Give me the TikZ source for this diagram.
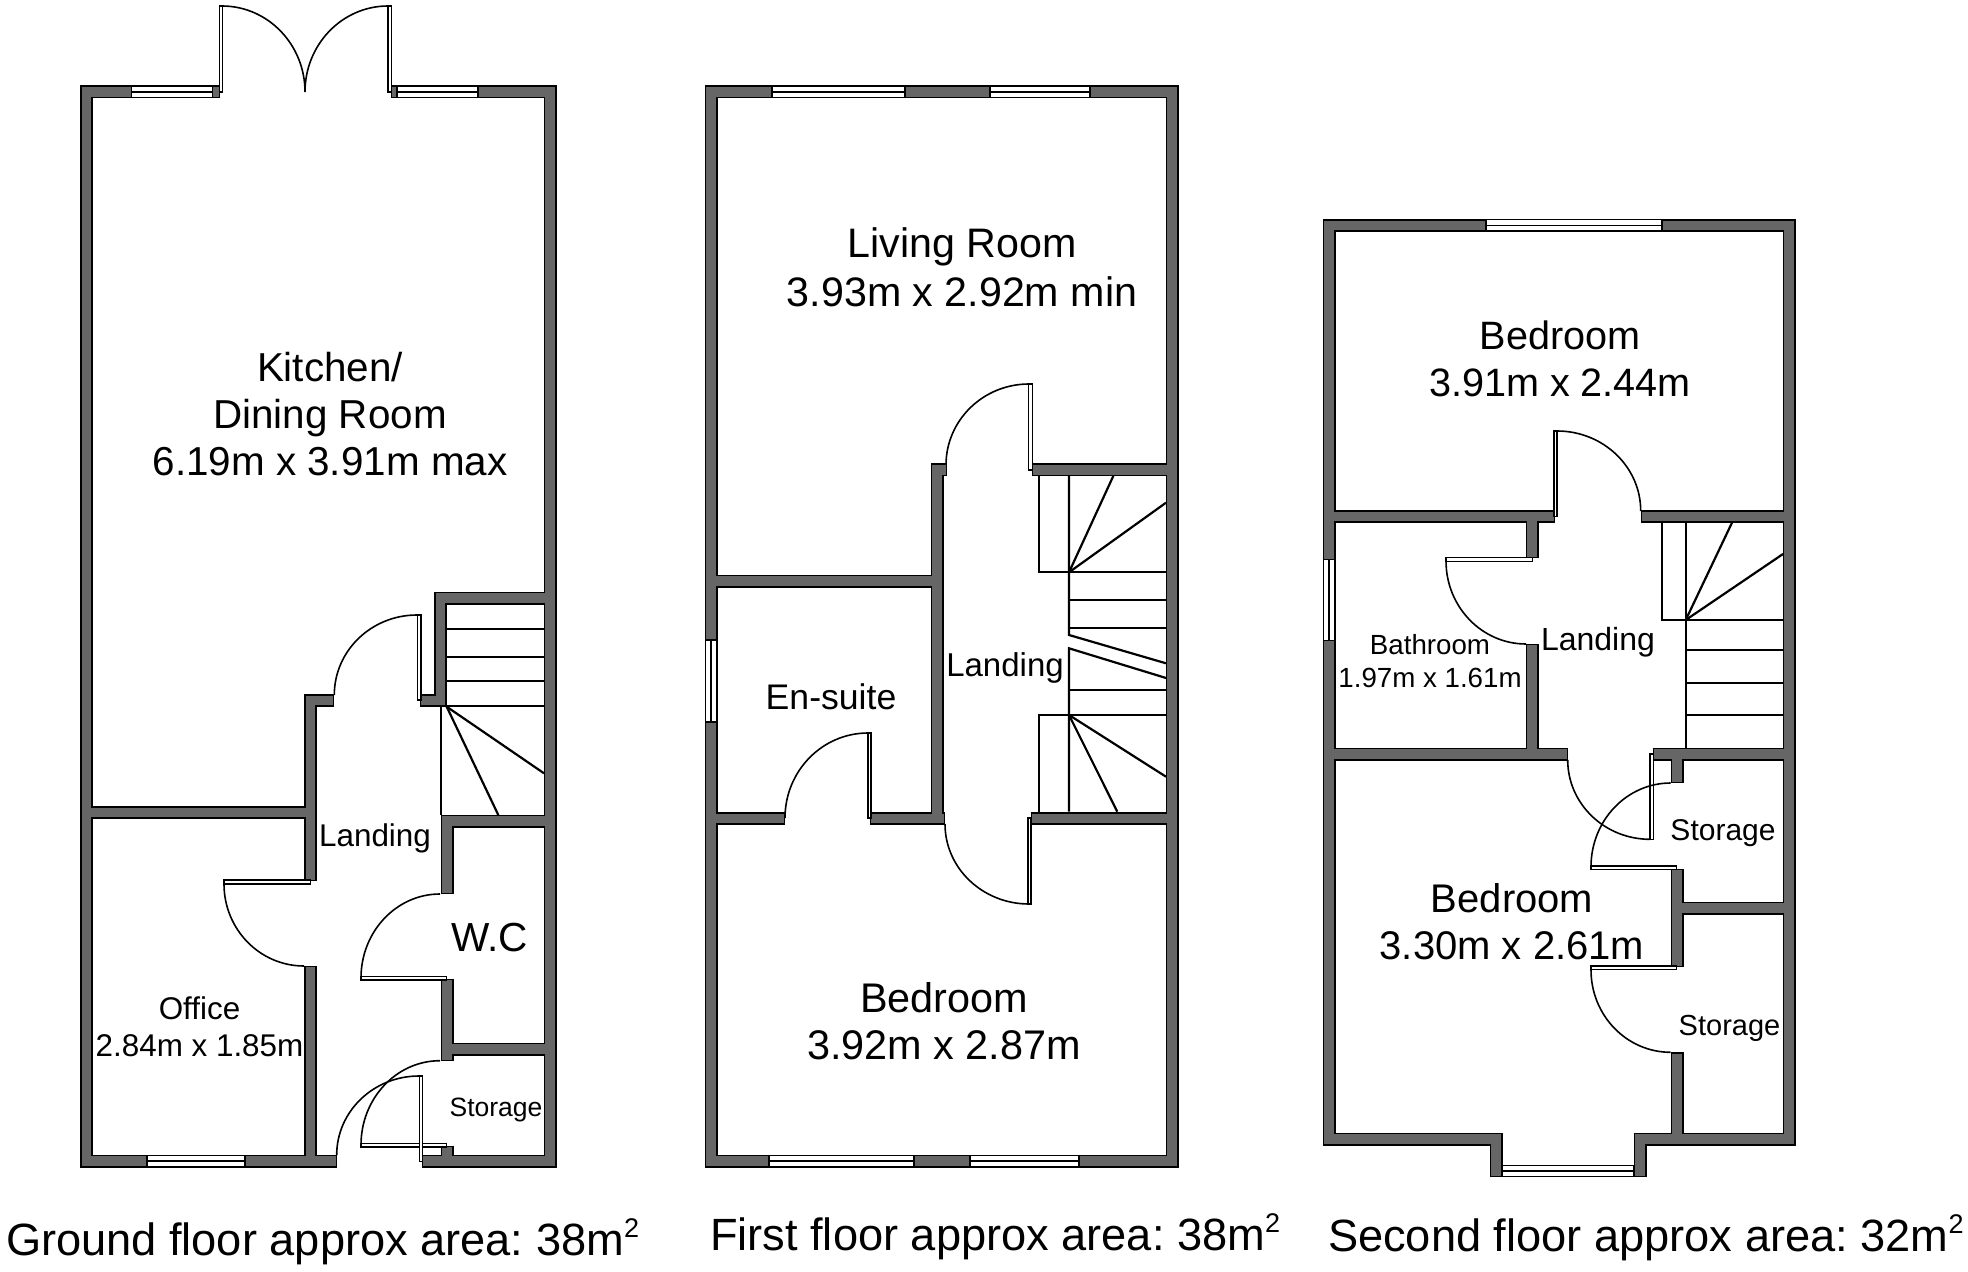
\documentclass[tikz,border=0pt]{standalone}
\usepackage{fontspec}
\setmainfont{Liberation Sans}
\usetikzlibrary{calc}
\definecolor{wallgrey}{HTML}{666666}
\tikzset{
  wallblack/.style={draw=black,line width=6.5pt,line cap=butt,line join=miter},
  wallfill/.style={draw=wallgrey,line width=4.7pt,line cap=butt,line join=miter,shorten <=0.6pt,shorten >=0.6pt},
  stair/.style={draw=black,line width=1.1pt},
  swing/.style={draw=black,line width=0.8pt},
  leaf/.style={draw=black,fill=white,line width=0.7pt},
  glass/.style={draw=black,fill=white,line width=0.7pt},
  lab/.style={inner sep=0pt,outer sep=0pt,anchor=center,align=center,text=black},
  capt/.style={inner sep=0pt,outer sep=0pt,anchor=base west,text=black,font=\fontsize{22.6}{22.6}\selectfont\frenchspacing}
}
\newcommand{\fs}[2]{\fontsize{#1}{#2}\selectfont\frenchspacing}
\newcommand{\sqm}{\raisebox{0.39em}{\fontsize{13.5}{13.5}\selectfont 2}}
\newcommand{\doorarc}[3]{\draw[swing] (#1) .. controls ($(#1)!0.5523!(#2)$) and ($(#3)!0.5523!(#2)$) .. (#3);}
\newcommand{\hwin}[3]{\draw[glass] (#1,#3-5.7) rectangle (#2,#3+5.7);\draw[glass] (#1,#3) -- (#2,#3);}
\newcommand{\vwin}[3]{\draw[glass] (#1-5.7,#2) rectangle (#1+5.7,#3);\draw[glass] (#1,#2) -- (#1,#3);}
\newcommand{\wallpaths}[1]{%
  % ground floor
  \draw[#1] (220,92)--(86.3,92)--(86.3,1161)--(336.7,1161);
  \draw[#1] (390.7,92)--(550,92)--(550,1161)--(421.7,1161);
  \draw[#1] (550,598)--(440.5,598)--(440.5,700.3)--(420,700.3);
  \draw[#1] (334,700.3)--(310.3,700.3)--(310.3,880.7);
  \draw[#1] (310.3,966)--(310.3,1161);
  \draw[#1] (86,812.7)--(310,812.7);
  \draw[#1] (550,821)--(447,821)--(447,894);
  \draw[#1] (447,979)--(447,1060.7);
  \draw[#1] (447,1049)--(550,1049);
  \draw[#1] (447,1145.7)--(447,1161);
  % first floor
  \draw[#1] (1000,92)--(711,92)--(711,1161)--(1172,1161)--(1172,92)--(1000,92);
  \draw[#1] (1031.7,470)--(1172,470);
  \draw[#1] (946.7,470)--(937,470)--(937,818.3);
  \draw[#1] (711,581)--(937,581);
  \draw[#1] (711,818.3)--(785,818.3);
  \draw[#1] (870,818.3)--(945,818.3);
  \draw[#1] (1030.7,818.3)--(1172,818.3);
  % second floor
  \draw[#1] (1496,1177)--(1496,1139)--(1329,1139)--(1329,225.3)--(1789,225.3)--(1789,1139)--(1640,1139)--(1640,1177);
  \draw[#1] (1329,516.7)--(1555,516.7);
  \draw[#1] (1640.7,516.7)--(1789,516.7);
  \draw[#1] (1532,516.7)--(1532,558.3);
  \draw[#1] (1532,644)--(1532,754);
  \draw[#1] (1329,754)--(1567.7,754);
  \draw[#1] (1652.7,754)--(1789,754);
  \draw[#1] (1677,754)--(1677,782.7);
  \draw[#1] (1677,869)--(1677,966.7);
  \draw[#1] (1677,908)--(1789,908);
  \draw[#1] (1677,1052.3)--(1677,1139);
}
\begin{document}
\begin{tikzpicture}[x=0.5pt,y=-0.5pt]
\useasboundingbox (0,0) rectangle (1968,1272);
\fill[white] (0,0) rectangle (1968,1272);

% ---- stairs (under walls)
\foreach \y in {629.3,656.7,680.7,706.3} \draw[stair] (446,\y)--(544,\y);
\draw[stair] (441,706.3)--(441,815);
\draw[stair] (446.7,706.7)--(544,773.3);
\draw[stair] (446.7,706.7)--(498.3,815);

\draw[stair] (1039.3,476)--(1039.3,572.3)--(1166,572.3);
\draw[stair] (1069,476)--(1069,635)--(1166,663.3);
\draw[stair] (1069,572.3)--(1113.3,476);
\draw[stair] (1069,572.3)--(1166,502.7);
\foreach \y in {600,627.7} \draw[stair] (1069,\y)--(1166,\y);
\draw[stair] (1166,678)--(1069,648.3)--(1069,811.7);
\draw[stair] (1069,690)--(1166,690);
\draw[stair] (1039.3,811.7)--(1039.3,715)--(1166,715);
\draw[stair] (1069,715)--(1166,776.7);
\draw[stair] (1069,715)--(1117.3,811.7);

\draw[stair] (1662.3,522)--(1662.3,620)--(1783,620);
\draw[stair] (1685.7,522)--(1685.7,748);
\draw[stair] (1685.7,620)--(1732.3,522);
\draw[stair] (1685.7,620)--(1783,554);
\foreach \y in {650,683.3,715} \draw[stair] (1685.7,\y)--(1783,\y);

% ---- walls
\wallpaths{wallblack}
\wallpaths{wallfill}

% ---- windows
\hwin{131.7}{212.7}{92}
\hwin{397}{478}{92}
\hwin{147}{245}{1161}
\hwin{772}{905}{92}
\hwin{990}{1090}{92}
\hwin{769}{914}{1161}
\hwin{970}{1079}{1161}
\vwin{711}{640}{722}
\hwin{1486}{1662}{225.3}
\hwin{1502}{1634}{1171}
\vwin{1329}{559.3}{640.7}

% ---- doors: ground floor
\draw[leaf] (219.5,6) rectangle (222.7,92);
\doorarc{222,6}{305,6}{305,92}
\draw[leaf] (388,6) rectangle (391.5,92);
\doorarc{388,6}{305,6}{305,92}
\draw[leaf] (417.3,615) rectangle (421,700);
\doorarc{417,615}{334.3,615}{334.3,695}
\draw[leaf] (224,880) rectangle (310.7,884);
\doorarc{224,884}{224,966}{304,966}
\draw[leaf] (361,976.7) rectangle (446.7,980);
\doorarc{440,894}{361,894}{361,978}
\draw[leaf] (361,1143.3) rectangle (446.7,1147);
\doorarc{440,1060.7}{361,1060.7}{361,1145}
\draw[leaf] (419.3,1076) rectangle (422.5,1161.7);
\doorarc{419,1076}{336.7,1076}{336.7,1155}

% ---- doors: first floor
\draw[leaf] (1028.7,384) rectangle (1032.3,470);
\doorarc{1029,384}{946,384}{946,465}
\draw[leaf] (1028,818) rectangle (1031,904);
\doorarc{1029,904}{945,904}{945,824}
\draw[leaf] (868,733) rectangle (871,818);
\doorarc{868,733}{785,733}{785,818}

% ---- doors: second floor
\draw[leaf] (1554,431) rectangle (1557,516.7);
\doorarc{1557,431}{1640.7,431}{1640.7,511}
\draw[leaf] (1446,557.7) rectangle (1532.7,561.3);
\doorarc{1446,561}{1446,644}{1526,644}
\draw[leaf] (1650,754) rectangle (1653.5,839.3);
\doorarc{1650,839.3}{1567.7,839.3}{1567.7,760}
\draw[leaf] (1591,866) rectangle (1676.7,869.5);
\doorarc{1591,866.7}{1591,783}{1670.7,783}
\draw[leaf] (1591,966) rectangle (1676.7,969.5);
\doorarc{1591,970}{1591,1052.3}{1670.7,1052.3}

% ---- labels: ground floor
\node[lab,font=\fs{20.2}{23.5}] (kitchen) at (330,414) {Kitchen/\\Dining Room\\6.19m x 3.91m max};
\node[lab,font=\fs{15.7}{18}] (landg) at (375,838) {Landing};
\node[lab,font=\fs{20.3}{23}] (wc) at (489.5,937.5) {W.C};
\node[lab,font=\fs{15.7}{18.5}] (office) at (199.5,1027) {Office\\2.84m x 1.85m};
\node[lab,font=\fs{13.25}{15}] (storg) at (496,1110) {Storage};
\node[capt] (capg) at (6,1255) {Ground floor approx area: 38m\sqm};

% ---- labels: first floor
\node[lab,font=\fs{20.6}{24.5}] (living) at (962,267.5) {Living Room\\3.93m x 2.92m min};
\node[lab,font=\fs{17.8}{20}] (ensuite) at (831,697) {En-suite};
\node[lab,font=\fs{16.5}{19}] (landf) at (1005,668) {Landing};
\node[lab,font=\fs{20.7}{23.8}] (bedf) at (944,1021) {Bedroom\\3.92m x 2.87m};
\node[capt] (capf) at (710,1250) {First floor approx area: 38m\sqm};

% ---- labels: second floor
\node[lab,font=\fs{19.8}{23.4}] (beds) at (1560,359) {Bedroom\\3.91m x 2.44m};
\node[lab,font=\fs{13.85}{16.5}] (bath) at (1430,661.5) {Bathroom\\1.97m x 1.61m};
\node[lab,font=\fs{16}{18}] (lands) at (1598,642) {Landing};
\node[lab,font=\fs{20}{23.5}] (bedt) at (1512,922) {Bedroom\\3.30m x 2.61m};
\node[lab,font=\fs{15}{17}] (stors) at (1723,833) {Storage};
\node[lab,font=\fs{14.5}{16}] (stort) at (1729.5,1028) {Storage};
\node[capt] (caps) at (1328,1251) {Second floor approx area: 32m\sqm};
\end{tikzpicture}
\end{document}
